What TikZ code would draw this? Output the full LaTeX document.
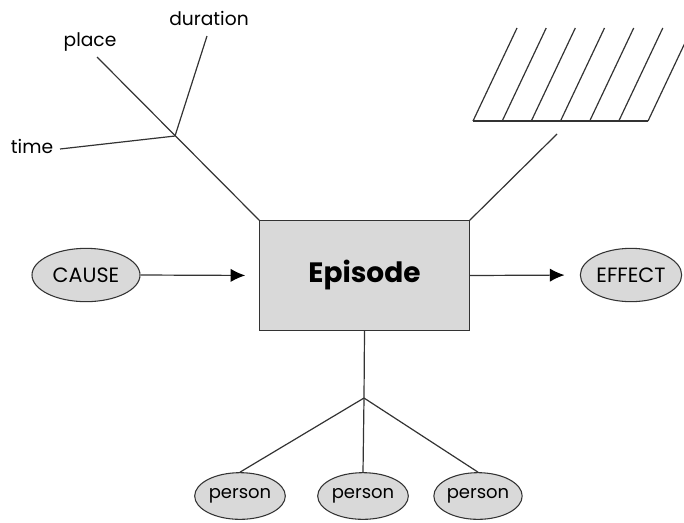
\documentclass[tikz,border=0pt]{standalone}
\usepackage{fontspec}
\setmainfont{Poppins}
\usetikzlibrary{shapes.geometric,arrows.meta}
\definecolor{ln}{HTML}{333333}
\definecolor{fl}{HTML}{D9D9D9}
\begin{document}
\begin{tikzpicture}[x=0.75pt,y=-0.75pt,
  line/.style={draw=ln,line width=0.9pt},
  oval/.style={ellipse,draw=ln,fill=fl,line width=0.8pt,inner sep=0pt},
  capsfont/.style={font=\fontsize{15.5}{18}\selectfont},
  lowfont/.style={font=\fontsize{13.5}{16}\selectfont},
  lbl/.style={inner sep=0pt,font=\fontsize{14}{16}\selectfont},
  arr/.style={line,-{Latex[length=11pt,width=10pt,fill=black,color=black]}}]
\useasboundingbox (0,0) rectangle (684,522);
\node[draw=ln,fill=fl,line width=0.9pt,minimum width=157pt,minimum height=82pt,inner sep=0pt,font=\bfseries\fontsize{21}{24}\selectfont] (ep) at (364.5,275.5) {Episode};
\node[oval,capsfont,minimum width=81pt,minimum height=40pt] (cause) at (86,275) {CAUSE};
\node[oval,capsfont,minimum width=76pt,minimum height=40pt] (effect) at (631,275) {EFFECT};
\draw[arr,shorten >=10.5pt] (cause.east) -- (ep.west);
\draw[arr,shorten >=11.5pt] (ep.east) -- (effect.west);
% top-left
\node[lbl] (place) at (90,42) {place};
\node[lbl] (dur) at (209,18) {duration};
\node[lbl] (time) at (32,146) {time};
\coordinate (pl) at (97,57);
\coordinate (du) at (207,36);
\coordinate (ti) at (60,149);
\coordinate (j1) at (175,136);
\draw[line] (pl) -- (ep.north west);
\draw[line] (du) -- (j1);
\draw[line] (ti) -- (j1);
% hatch
\coordinate (hb) at (557,134);
\draw[line] (ep.north east) -- (hb);
\coordinate (h0) at (473,121);
\coordinate (h1) at (648,121);
\draw[line] (h0) -- (h1);
\foreach \x in {473,502.2,531.3,560.5,589.7,618.8,648}{
  \draw[line] (\x,121) -- ++(44,-93);
}
% persons
\node[oval,lowfont,minimum width=68pt,minimum height=35pt] (p1) at (240,496) {person};
\node[oval,lowfont,minimum width=68pt,minimum height=35pt] (p2) at (363,496) {person};
\node[oval,lowfont,minimum width=59pt,minimum height=35pt] (p3) at (478,496) {person};
\coordinate (j2) at (364,398);
\draw[line] (ep.south) -- (j2);
\draw[line] (j2) -- (p1.north);
\draw[line] (j2) -- (p2.north);
\draw[line] (j2) -- (p3.north);
\end{tikzpicture}
\end{document}
